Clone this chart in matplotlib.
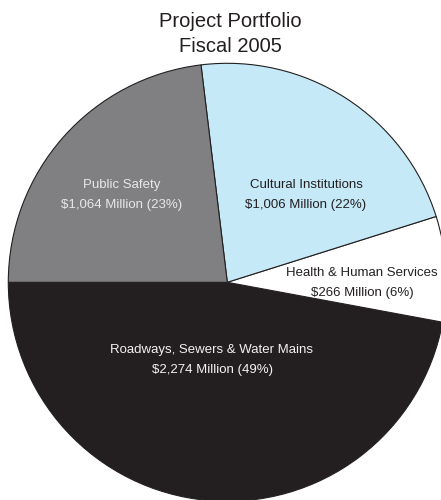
import matplotlib
matplotlib.use("Agg")
import matplotlib.pyplot as plt

# ── Data ─────────────────────────────────────────────────────────────────────
categories = ["Roadways, Sewers & Water Mains", "Health & Human Services",
              "Cultural Institutions", "Public Safety"]
amounts_musd = [2274, 266, 1006, 1064]
label_pct = [49, 6, 22, 23]
# wedge sizes as drawn in the original graphic (degrees)
wedge_deg = [169.5, 28.0, 79.4, 83.1]

colors = ["#231f20", "#ffffff", "#c6e9f8", "#808083"]
text_colors = ["#f2f2f2", "#231f20", "#231f20", "#e8e8e8"]
# label centres in pixel coords (x, y from top)
label_pos = [(212, 360), (362, 283), (306, 195), (122, 195)]

plt.rcParams["font.family"] = ["Liberation Sans Narrow", "Liberation Sans", "DejaVu Sans"]

W, H = 441, 500
fig = plt.figure(figsize=(W / 100, H / 100), dpi=100)
ax = fig.add_axes([0, 0, 1, 1])

cx, cy, r = 227.3, H - 282.3, 219
ax.pie(wedge_deg, colors=colors, startangle=180, counterclock=True,
       center=(cx, cy), radius=r, frame=True,
       wedgeprops=dict(edgecolor="#231f20", linewidth=0.8))

for name, amt, pct, (x, y), tc in zip(categories, amounts_musd, label_pct,
                                     label_pos, text_colors):
    ax.text(x, H - y, f"{name}\n${amt:,} Million ({pct}%)", ha="center",
            va="center", fontsize=9.5, color=tc, linespacing=1.8)

ax.text(230, H - 34, "Project Portfolio\nFiscal 2005", ha="center", va="center",
        fontsize=14.5, color="#231f20", linespacing=1.4)

ax.set_xlim(0, W)
ax.set_ylim(0, H)
ax.set_aspect("equal")
ax.axis("off")

fig.savefig("out.png", dpi=100)
